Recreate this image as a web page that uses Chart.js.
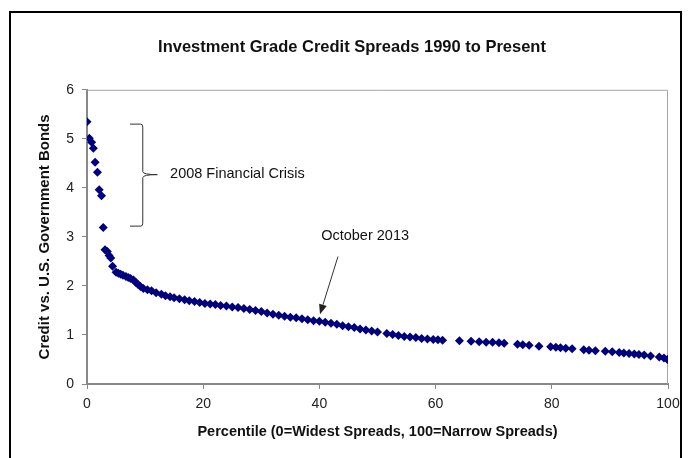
<!DOCTYPE html>
<html lang="en">
<head>
<meta charset="UTF-8">
<title>Investment Grade Credit Spreads 1990 to Present</title>
<script src="https://cdn.jsdelivr.net/npm/chart.js"></script>
<style>
  html, body { margin: 0; padding: 0; background: #fff; }
  body { width: 688px; height: 458px; overflow: hidden; }
  .wrap { position: relative; width: 688px; height: 458px; }
</style>
</head>
<body>
<div class="wrap"><canvas id="spreadChart" width="688" height="458"></canvas></div>
<script>
// percentile rank (0 = widest spreads) and spread over treasuries
const percentile = [
  0, 0.4, 0.8, 1.1, 1.4, 1.8, 2.1, 2.5, 2.8, 3.1, 3.5, 3.8, 4.1, 4.4, 5.0, 5.4, 5.8, 6.2, 6.7, 7.1,
  7.5, 8.0, 8.4, 8.8, 9.2, 9.7, 10.4, 11.1, 11.9, 12.8, 13.5, 14.3, 15.0, 15.9, 16.8, 17.6, 18.5, 19.4,
  20.3, 21.2, 22.1, 23.0, 24.0, 25.0, 26.0, 27.0, 28.0, 29.0, 30.0, 31.0, 32.0, 33.0, 34.0, 35.0, 36.0,
  37.0, 38.0, 39.0, 40.0, 41.0, 42.0, 43.0, 44.0, 45.0, 46.0, 47.0, 48.0, 49.0, 50.0, 51.6, 52.6, 53.6,
  54.6, 55.6, 56.6, 57.6, 58.6, 59.6, 60.4, 61.2, 64.1, 66.1, 67.5, 68.7, 69.8, 70.9, 71.8, 74.1, 75.0,
  76.1, 77.8, 79.8, 80.7, 81.5, 82.4, 83.5, 85.5, 86.4, 87.5, 89.2, 90.4, 91.6, 92.4, 93.3, 94.2, 95.0,
  95.9, 97.0, 98.5, 99.3, 99.9
];
const spread = [
  5.35, 5.01, 4.93, 4.81, 4.52, 4.32, 3.96, 3.84, 3.19, 2.74, 2.70, 2.62, 2.57, 2.40, 2.28, 2.26, 2.24, 2.22, 2.19, 2.17,
  2.15, 2.12, 2.07, 2.03, 1.99, 1.95, 1.92, 1.90, 1.86, 1.83, 1.80, 1.78, 1.76, 1.74, 1.72, 1.70, 1.68, 1.66,
  1.64, 1.63, 1.62, 1.60, 1.59, 1.57, 1.56, 1.54, 1.52, 1.50, 1.48, 1.45, 1.42, 1.40, 1.38, 1.36, 1.35,
  1.33, 1.31, 1.29, 1.28, 1.26, 1.24, 1.22, 1.19, 1.17, 1.15, 1.12, 1.10, 1.08, 1.06, 1.03, 1.01, 0.99,
  0.97, 0.96, 0.95, 0.93, 0.92, 0.91, 0.90, 0.89, 0.88, 0.87, 0.86, 0.85, 0.85, 0.84, 0.83, 0.81, 0.80,
  0.79, 0.77, 0.76, 0.75, 0.74, 0.73, 0.72, 0.70, 0.69, 0.68, 0.67, 0.66, 0.64, 0.63, 0.62, 0.61, 0.60,
  0.59, 0.57, 0.55, 0.53, 0.50
];

const xTicks = [0, 20, 40, 60, 80, 100];
const yTicks = [0, 1, 2, 3, 4, 5, 6];

const chartTitle = 'Investment Grade Credit Spreads 1990 to Present';
const xTitle = 'Percentile (0=Widest Spreads, 100=Narrow Spreads)';
const yTitle = 'Credit vs. U.S. Government Bonds';
const crisisLabel = '2008 Financial Crisis';
const octLabel = 'October 2013';

const FONT = "'Liberation Sans', Arial, sans-serif";

// outer frame, plot border, brace and arrow callouts
const callouts = {
  id: 'callouts',
  beforeDraw(chart) {
    const ctx = chart.ctx;
    ctx.save();
    ctx.fillStyle = '#fff';
    ctx.fillRect(0, 0, chart.width, chart.height);
    ctx.strokeStyle = '#000';
    ctx.lineWidth = 2;
    ctx.beginPath();
    ctx.moveTo(10, chart.height);
    ctx.lineTo(10, 12);
    ctx.lineTo(681, 12);
    ctx.lineTo(681, chart.height);
    ctx.stroke();
    ctx.restore();
  },
  beforeDatasetsDraw(chart) {
    const {ctx, chartArea: a} = chart;
    ctx.save();
    ctx.strokeStyle = '#a6a6a6';
    ctx.lineWidth = 1;
    ctx.beginPath();
    ctx.moveTo(a.left, a.top + 0.5);
    ctx.lineTo(a.right - 0.5, a.top + 0.5);
    ctx.lineTo(a.right - 0.5, a.bottom);
    ctx.stroke();
    ctx.restore();
  },
  afterDatasetsDraw(chart) {
    const ctx = chart.ctx;
    const xs = chart.scales.x, ys = chart.scales.y;
    const px = v => xs.getPixelForValue(v), py = v => ys.getPixelForValue(v);
    ctx.save();
    ctx.strokeStyle = '#333';
    ctx.lineWidth = 1;

    // right brace around the crisis points
    const bl = px(7.4), bv = px(9.6), bt = px(12.1);
    const top = py(5.3), bot = py(3.22), mid = py(4.27);
    ctx.beginPath();
    ctx.moveTo(bl, top);
    ctx.lineTo(bv - 2, top);
    ctx.quadraticCurveTo(bv, top, bv, top + 3);
    ctx.lineTo(bv, mid - 3);
    ctx.quadraticCurveTo(bv, mid, bt, mid);
    ctx.quadraticCurveTo(bv, mid, bv, mid + 3);
    ctx.lineTo(bv, bot - 3);
    ctx.quadraticCurveTo(bv, bot, bv - 2, bot);
    ctx.lineTo(bl, bot);
    ctx.stroke();

    ctx.fillStyle = '#111';
    ctx.font = '14.5px ' + FONT;
    ctx.textBaseline = 'middle';
    ctx.textAlign = 'left';
    ctx.fillText(crisisLabel, px(14.3), py(4.29));
    ctx.fillText(octLabel, px(40.3), py(3.02));

    // arrow to october 2013
    const x0 = px(43.2), y0 = py(2.6), x1 = px(40.1), y1 = py(1.42);
    const ang = Math.atan2(y1 - y0, x1 - x0);
    const hl = 10, hw = 4;
    const bx = x1 - hl * Math.cos(ang), by = y1 - hl * Math.sin(ang);
    ctx.beginPath();
    ctx.moveTo(x0, y0);
    ctx.lineTo(bx, by);
    ctx.stroke();
    ctx.fillStyle = '#222';
    ctx.beginPath();
    ctx.moveTo(x1, y1);
    ctx.lineTo(bx + hw * Math.sin(ang), by - hw * Math.cos(ang));
    ctx.lineTo(bx - hw * Math.sin(ang), by + hw * Math.cos(ang));
    ctx.closePath();
    ctx.fill();
    ctx.restore();
  }
};

new Chart(document.getElementById('spreadChart'), {
  type: 'scatter',
  data: {
    datasets: [{
      label: 'Spread',
      data: percentile.map((p, i) => ({x: p, y: spread[i]})),
      pointStyle: 'rectRot',
      pointRadius: 4.5,
      pointHoverRadius: 4.5,
      backgroundColor: '#00007f',
      borderColor: '#00007f',
      borderWidth: 0
    }]
  },
  options: {
    responsive: false,
    animation: false,
    events: [],
    layout: { padding: { top: 38, left: 36, right: 20, bottom: 0 } },
    plugins: {
      legend: { display: false },
      tooltip: { enabled: false },
      title: {
        display: true,
        text: chartTitle,
        color: '#111',
        font: { family: FONT, size: 16.5, weight: 'bold' },
        padding: { top: 0, bottom: 32 }
      }
    },
    scales: {
      x: {
        type: 'linear',
        min: 0, max: 100,
        afterBuildTicks: s => { s.ticks = xTicks.map(v => ({value: v})); },
        afterFit: s => { s.height = 74; s.paddingLeft = 0; s.paddingRight = 0; },
        grid: { drawOnChartArea: false, drawTicks: true, tickLength: 5, tickColor: '#888' },
        border: { color: '#888', width: 2 },
        ticks: { color: '#222', padding: 7, font: { family: FONT, size: 14 } },
        title: {
          display: true, text: xTitle, color: '#111',
          font: { family: FONT, size: 14.5, weight: 'bold' },
          padding: { top: 0, bottom: 17 }
        }
      },
      y: {
        min: 0, max: 6,
        afterBuildTicks: s => { s.ticks = yTicks.map(v => ({value: v})); },
        afterFit: s => { s.width = 51; },
        grid: { drawOnChartArea: false, drawTicks: true, tickLength: 5, tickColor: '#888' },
        border: { color: '#888', width: 2 },
        ticks: { color: '#222', padding: 8, font: { family: FONT, size: 14 } },
        title: {
          display: true, text: yTitle, color: '#111',
          font: { family: FONT, size: 15, weight: 'bold' },
          padding: { top: 0, bottom: 0 }
        }
      }
    }
  },
  plugins: [callouts]
});
</script>
</body>
</html>
